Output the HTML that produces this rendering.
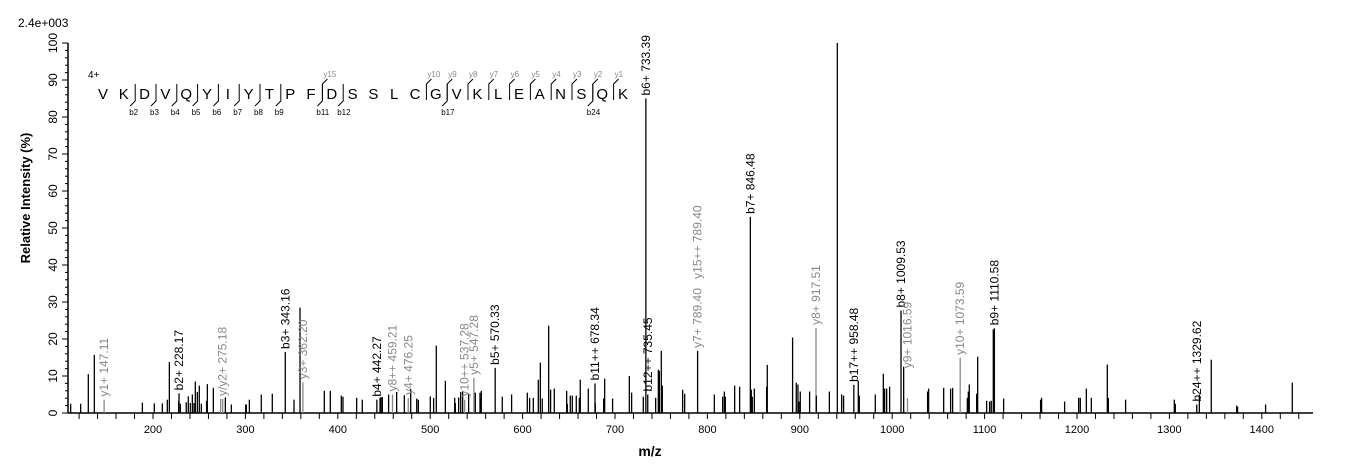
<!DOCTYPE html>
<html><head><meta charset="utf-8"><style>
html,body{margin:0;padding:0;background:#fff;}
svg{display:block;font-family:"Liberation Sans",Arial,sans-serif;}
</style></head><body>
<svg id="chart" width="1362" height="473" viewBox="0 0 1362 473" xmlns="http://www.w3.org/2000/svg">
<text x="18" y="27" font-size="12">2.4e+003</text>
<text x="88" y="78" font-size="10">4+</text>
<text x="650" y="456" font-size="14" font-weight="bold" text-anchor="middle">m/z</text>
<text transform="translate(30,198) rotate(-90)" font-size="13" font-weight="bold" text-anchor="middle">Relative   Intensity (%)</text>
<g id="axes"></g><g id="peaks"></g><g id="labels"></g><g id="seq"></g>
</svg>
<script>
const peakMz=[110.9,121.7,130,136.5,147.11,188.5,201.4,210.1,215.5,217.7,227.8,228.17,229.6,236,238.2,240.4,242.6,244.4,245.8,248,250.1,252.3,258,258.8,265.3,273.2,275.4,278.3,284.8,300.3,301,304.3,317.2,329.1,343.16,352.6,359.1,362.2,385.4,391.9,403.8,405.6,420.4,426.5,442.27,445.7,446.8,448.2,455,459.21,463.7,472,476.25,478.9,485.4,487.2,500.1,503.7,506.6,516.4,526.5,527.2,530.8,533,535.1,537.28,541.6,547.28,548.8,553.9,554.6,555.3,570.33,578,588.1,605.1,607.6,611.6,617,619.2,621.3,628.2,630.3,634.3,647.7,648.4,651.6,653.8,658.1,661.4,662.4,671.1,678.34,678.7,687.7,688.8,697.4,715.5,718,730.6,733.39,735.45,744,746.9,748,750.1,751.2,773.2,775.4,789.4,807.5,816.5,818.3,819.4,829.5,834.9,846.48,847.5,848.6,850.8,864.1,864.8,892.2,896.2,898,899.1,900.5,910.6,917.51,917.9,932,940.6,945.3,947.4,958.48,963.3,964.4,981.7,990.4,991.8,994,997.2,1009.53,1012.4,1016.59,1038.3,1039.4,1055.7,1063.2,1065.4,1073.59,1081.3,1082.4,1083.4,1091.4,1092.5,1102.2,1105.4,1107.2,1109.4,1110.58,1120.6,1160.6,1161.7,1186.6,1201.8,1203.6,1210.1,1215.5,1232.8,1233.9,1252.6,1305.3,1306.4,1329.62,1332.4,1345.3,1372.8,1373.8,1404.1,1433];
const peakInt=[2.5,2.5,10.5,15.7,3.6,2.8,2.6,2.6,3.6,13.8,3.3,5.3,2.5,2.9,4.5,2.7,5,2.7,8.5,5.7,7.4,2.5,3.3,7.8,6.8,3.8,3.8,4.2,2.3,2.3,2.3,3.6,5,5.2,16.5,3.6,28.5,8.3,6,6,4.7,4.4,4.1,3.6,3.6,4.1,4.3,4.3,5,5,5.7,4.8,4.1,6.5,3.9,3.6,4.5,4.1,18.2,8.7,4.1,2.7,4.2,5.7,6,3.6,5,9.5,5.5,5.5,3.9,6,12.2,4.4,5,5.5,4.1,4.1,9,13.6,3.9,23.6,6.3,6.6,6,2.5,4.7,4.7,4.7,4.1,9,6.6,8,2.7,3.9,9.3,3.9,10,5.5,4.4,85,5,4.1,11.7,11.4,16.8,7.4,6.3,5.2,16.8,5,4.4,5.8,4.4,7.4,7.1,53,6.3,4.4,6.6,7.1,13,20.4,8.2,7.7,3.1,5.8,5.8,23,4.7,5.8,100,5,4.7,7.6,8.7,4.7,5,10.6,6.6,6.6,7.1,27.7,12.5,4,5.8,6.6,6.8,6.6,6.8,14.9,4.1,5.8,7.7,5.2,15.2,3.3,3.1,3.3,22.6,22.9,3.9,3.6,4.1,3.1,4.1,4.1,6.6,4.1,13.1,4.1,3.6,3.6,2.5,2.3,5,14.4,2,1.7,2.3,8.2];
const grayMz=[147.11,273.2,275.4,362.2,459.21,476.25,537.28,547.28,917.51,1016.59,1073.59];
const labelMz=[147.11,228.17,275.4,343.16,362.2,442.27,459.21,476.25,537.28,547.28,570.33,678.34,733.39,735.45,789.4,789.4,846.48,917.51,958.48,1009.53,1016.59,1073.59,1110.58,1329.62];
const labelText=["y1+ 147.11","b2+ 228.17","y/y2+ 275.18","b3+ 343.16","y3+ 362.20","b4+ 442.27","y8++ 459.21","y4+ 476.25","y10++ 537.28","y5+ 547.28","b5+ 570.33","b11++ 678.34","b6+ 733.39","b12++ 735.45","y7+ 789.40","y15++ 789.40","b7+ 846.48","y8+ 917.51","b17++ 958.48","b8+ 1009.53","y9+ 1016.59","y10+ 1073.59","b9+ 1110.58","b24++ 1329.62"];
const labelGap=[3,3,3,3,3,3,3,3,3,3,3,3,3,3,3,72,3,3,3,3,30,3,3,3];
const xTicks=[200,300,400,500,600,700,800,900,1000,1100,1200,1300,1400];
const yTicks=[0,10,20,30,40,50,60,70,80,90,100];
const seqLetters="VKDVQYIYTPFDSSLCGVKLEANSQK".split("");
const bIons=[2,3,4,5,6,7,8,9,11,12,17,24];
const yIons=[15,10,9,8,7,6,5,4,3,2,1];

const NS="http://www.w3.org/2000/svg";
const X0=68,X1=1313,Y0=413,YT=43;
function xs(m){return 153+(m-200)*0.924;}
function ys(v){return Y0-(v/100)*(Y0-YT);}
function mk(tag,attrs,parent){const e=document.createElementNS(NS,tag);for(const k in attrs)e.setAttribute(k,attrs[k]);parent.appendChild(e);return e;}
const axes=document.getElementById('axes'),pk=document.getElementById('peaks'),lb=document.getElementById('labels'),sq=document.getElementById('seq');
let e=mk('line',{x1:X0,y1:Y0,x2:X1,y2:Y0,stroke:'#000','stroke-width':1.5},axes);


e=mk('line',{x1:X0,y1:Y0,x2:X0,y2:YT,stroke:'#000','stroke-width':1.5},axes);


for(let m=120;m<=1440;m+=20){const t=mk('line',{x1:xs(m),y1:Y0,x2:xs(m),y2:Y0+6,stroke:'#000','stroke-width':1},axes);

}
xTicks.forEach(v=>{const t=mk('text',{x:xs(v),y:Y0+20,'font-size':11,'text-anchor':'middle'},axes);t.textContent=v;

});
for(let v=0;v<=100;v+=2){const big=v%10===0;const t=mk('line',{x1:X0-(big?6:3),y1:ys(v),x2:X0,y2:ys(v),stroke:'#000','stroke-width':1},axes);

}
yTicks.forEach(v=>{const t=mk('text',{transform:`translate(57,${ys(v)}) rotate(-90)`,'font-size':12,'text-anchor':'middle'},axes);t.textContent=v;

});
peakMz.forEach((m,i)=>{const g=grayMz.indexOf(m)>=0;const l=mk('line',{x1:xs(m),y1:Y0,x2:xs(m),y2:ys(peakInt[i]),stroke:g?'#888':'#000','stroke-width':1.3},pk);

});
labelMz.forEach((m,i)=>{const idx=peakMz.indexOf(m);const h=idx>=0?peakInt[idx]:5;const txt=labelText[i];const gray=txt[0]==='y';
const yy=ys(h)-labelGap[i];const t=mk('text',{transform:`translate(${xs(m)+4},${yy}) rotate(-90)`,'font-size':12,fill:gray?'#888':'#000'},lb);t.textContent=txt;

});
const sx0=103,sdx=20.8,sy=99;
seqLetters.forEach((c,i)=>{const t=mk('text',{x:sx0+i*sdx,y:sy,'font-size':15,'text-anchor':'middle'},sq);t.textContent=c;

});
bIons.forEach(n=>{const bx=sx0+(n-0.5)*sdx+1;const p=mk('path',{d:`M${bx},84 L${bx},101 L${bx-5},106`,stroke:'#000',fill:'none','stroke-width':1},sq);


const t=mk('text',{x:bx-6,y:115,'font-size':8,fill:'#000'},sq);t.textContent='b'+n;

});
yIons.forEach(n=>{const bx=sx0+(26-n-0.5)*sdx+1;const p=mk('path',{d:`M${bx+5},79 L${bx},84 L${bx},100`,stroke:'#000',fill:'none','stroke-width':1},sq);


const t=mk('text',{x:bx+1,y:77,'font-size':8,fill:'#888'},sq);t.textContent='y'+n;

});
</script>
</body></html>
